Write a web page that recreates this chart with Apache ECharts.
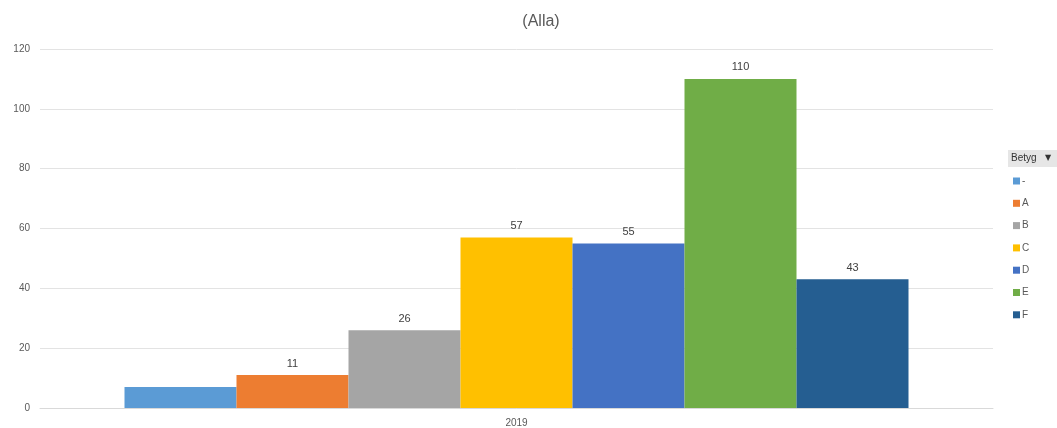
<!DOCTYPE html>
<html>
<head>
<meta charset="utf-8">
<script src="https://cdn.jsdelivr.net/npm/echarts@6/dist/echarts.min.js"></script>
<style>html,body{margin:0;padding:0;background:#fff}#c{width:1057px;height:428px}</style>
</head>
<body>
<div id="c"></div>
<script>
const categories = ['2019'];
const seriesNames = ['-', 'A', 'B', 'C', 'D', 'E', 'F'];
const seriesValues = [7, 11, 26, 57, 55, 110, 43];
const showLabels = [false, true, true, true, true, true, true];
const yTicks = [0, 20, 40, 60, 80, 100, 120];
const colors = ['#5B9BD5', '#ED7D31', '#A5A5A5', '#FFC000', '#4472C4', '#70AD47', '#255E91'];

const chart = echarts.init(document.getElementById('c'));
const series = seriesNames.map((n, i) => ({
  name: n,
  type: 'bar',
  data: [seriesValues[i]],
  barWidth: 112,
  barGap: 0,
  itemStyle: { color: colors[i] },
  label: {
    show: showLabels[i], position: 'top', distance: 6,
    color: '#404040', fontSize: 11, fontFamily: 'Liberation Sans, Arial'
  }
}));
chart.setOption({
  animation: false,
  title: {
    text: '(Alla)', left: 536, top: 9, textAlign: 'center',
    textStyle: { color: '#595959', fontSize: 16, fontWeight: 'normal', fontFamily: 'Liberation Sans, Arial' }
  },
  grid: { left: 40, right: 64, top: 49, bottom: 19 },
  xAxis: {
    type: 'category', data: categories,
    axisLine: { lineStyle: { color: '#D9D9D9' } },
    axisTick: { show: false },
    axisLabel: { color: '#595959', fontSize: 10, margin: 10, fontFamily: 'Liberation Sans, Arial' }
  },
  yAxis: {
    type: 'value', min: yTicks[0], max: yTicks[yTicks.length - 1], interval: 20,
    axisLine: { show: false }, axisTick: { show: false },
    splitLine: { lineStyle: { color: '#E3E3E3' } },
    axisLabel: { color: '#595959', fontSize: 10, margin: 10, fontFamily: 'Liberation Sans, Arial' }
  },
  legend: {
    orient: 'vertical', left: 1008, top: 170,
    itemWidth: 7, itemHeight: 7, itemGap: 10.3,
    icon: 'rect',
    data: seriesNames,
    textStyle: { color: '#595959', fontSize: 10, lineHeight: 12, padding: [0,0,0,-3], fontFamily: 'Liberation Sans, Arial' }
  },
  graphic: [
    { type: 'rect', shape: { x: 1008, y: 150, width: 49, height: 17 }, style: { fill: '#E6E6E6' } },
    { type: 'text', left: 1011, top: 153, style: { text: 'Betyg', fill: '#333333', fontSize: 10, fontFamily: 'Liberation Sans, Arial' } },
    { type: 'text', left: 1045, top: 154, style: { text: '▼', fill: '#333333', fontSize: 8, fontFamily: 'DejaVu Sans' } }
  ],
  series: series
});
</script>
</body>
</html>
